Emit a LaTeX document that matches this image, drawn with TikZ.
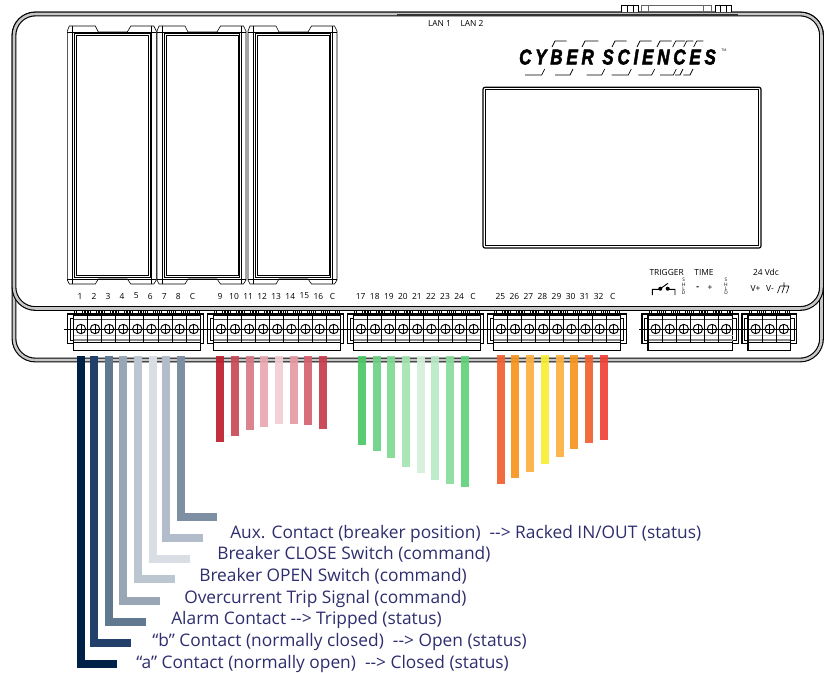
\documentclass[tikz,border=0pt]{standalone}
\usepackage{fontspec}
\usepackage{graphicx}
\setmainfont{Open Sans}
\newfontfamily\logofont[FakeBold=2.6,LetterSpace=22]{Liberation Sans}
\definecolor{lblnavy}{HTML}{2E2D6E}
\tikzset{
    shell/.style={line width=0.85pt, double=black!22, double distance=1.9pt, rounded corners=16pt},
    wire/.style={line width=6pt, opacity=0.92},
    lbl/.style={font=\fontsize{13}{15}\selectfont, text=lblnavy, anchor=base west, inner sep=0pt},
    pin/.style={font=\fontsize{6.3}{7}\selectfont, inner sep=0pt},
    shld/.style={font=\fontsize{3.6}{3.2}\selectfont, inner sep=0pt, align=center},
    hair/.style={line width=0.45pt}
}
\begin{document}
\begin{tikzpicture}[x=0.75pt, y=-0.75pt]
    \useasboundingbox (0,0) rectangle (832,672);

    % Rumah perangkat
    \draw[shell] (14,14) rectangle (821.5,360);
    \draw[shell, fill=white] (14,14) rectangle (821.5,308.5);
    \draw[line width=0.9pt, black!80] (397,15) -- (738,15);

    % Konektor atas
    \draw[hair, fill=white] (621.7,12) -- (621.7,5) -- (638,5) -- (638,12);
    \draw[hair] (627,5.5) -- (627,12) (633,5.5) -- (633,12);
    \draw[hair, black!60] (641.7,12) -- (641.7,5) -- (711.7,5) -- (711.7,12) (648,5) -- (648,12) (703,5) -- (703,12);
    \draw[hair, fill=white] (715,12) -- (715,5) -- (731,5) -- (731,12);
    \draw[hair] (720,5.5) -- (720,12) (726,5.5) -- (726,12);
    \node[pin] (lanA) at (439.5,23) {LAN 1};
    \node[pin] (lanB) at (472,23) {LAN 2};

    % Modul kiri
    \foreach \mx in {67.3,157,248} {
        \draw[hair, fill=white] (\mx,31) -- (\mx+2,26) -- (\mx+28,26) -- (\mx+31,32) -- (\mx+60,32) -- (\mx+63.5,26)
            -- (\mx+86.5,26) -- (\mx+89,31) -- (\mx+89,280) -- (\mx+86.5,284) -- (\mx+63.5,284) -- (\mx+60,279)
            -- (\mx+31,279) -- (\mx+28,284) -- (\mx+2,284) -- (\mx,280) -- cycle;
        \draw[hair] (\mx,32) -- (\mx+89,32) (\mx,279) -- (\mx+89,279);
        \draw[hair] (\mx+5.3,26) -- (\mx+5.3,284) (\mx+84,26) -- (\mx+84,284);
        \draw[hair] (\mx+6.8,33.5) rectangle (\mx+82.7,277);
        \draw[hair] (\mx+8.8,35.3) rectangle (\mx+81,275);
    }

    % Layar
    \draw[line width=0.9pt, rounded corners=1.5pt] (483,87.3) rectangle (761,248);
    \draw[hair] (485.5,89.5) rectangle (758.5,245.5);

    % Logo
    \node[inner sep=0pt] (logo) at (617.5,57) {\scalebox{0.8}[1]{\logofont\fontsize{16}{17}\selectfont\bfseries\itshape CYBER SCIENCES}};
    \node[inner sep=0pt, font=\fontsize{2.6}{3}\selectfont] (tm) at (724,50) {TM};
    \foreach \a/\b in {555/566.7,585/598.3,615/626.7,640/651.7,660/671.7,675.7/685,686.7/693.3,696.7/703.3}
        \draw[line width=0.55pt] (\a-3,47) -- (\a,41) -- (\b,41);
    \foreach \a/\b in {525/541.7,555/570,586.7/601.7,611.7/628.3,638.3/651.7,660/673.3,675/680,683.3/690}
        \draw[line width=0.55pt] (\a,75) -- (\b,75) -- (\b+3,69);

    % Nomor terminal
    \foreach \t [count=\i from 0] in {1,2,3,4,5,6,7,8,C} \node[pin] (pa\i) at (80+14.05*\i,296) {\t};
    \foreach \t [count=\i from 0] in {9,10,11,12,13,14,15,16,C} \node[pin] (pb\i) at (220+14.05*\i,296) {\t};
    \foreach \t [count=\i from 0] in {17,18,19,20,21,22,23,24,C} \node[pin] (pc\i) at (360.7+14.05*\i,296) {\t};
    \foreach \t [count=\i from 0] in {25,26,27,28,29,30,31,32,C} \node[pin] (pd\i) at (500.3+14.05*\i,296) {\t};

    % Blok terminal
    \foreach \bx/\n/\fr in {73.3/9/3,213.3/9/3,353.3/9/3,493.3/9/6,648/6/6,748/3/6} {
        \pgfmathsetmacro{\bw}{14.1*\n}
        \draw[thick, fill=white] (\bx-6,314) rectangle (\bx+\bw+\fr,343.5);
        \draw[hair] (\bx-3.5,318) rectangle (\bx+\bw+\fr-2.5,340);
        \fill[black!35] (\bx,336) rectangle (\bx+\bw,342);
        \draw[thick, fill=white] (\bx,315.7) rectangle (\bx+\bw,350.7);
        \fill[black!25] (\bx,334.5) rectangle (\bx+\bw,336);
        \fill[black!45] (\bx,338.5) rectangle (\bx+\bw,341);
        \draw[hair] (\bx,342) -- (\bx+\bw,342);
        \draw[hair, black!70] (\bx,319.5) -- (\bx+\bw,319.5);
        \draw[line width=0.6pt] (\bx-9,329) -- (\bx+\bw+7,329);
        \foreach \k in {1,...,\n} {
            \pgfmathsetmacro{\sx}{\bx+14.1*(\k-1)}
            \draw[line width=0.6pt] (\sx,316) -- (\sx,342);
            \draw[hair] (\sx+1,316) -- (\sx+1,310.5) -- (\sx+3,310.5) -- (\sx+3,316);
            \draw[hair] (\sx+9,316) -- (\sx+9,310.5) -- (\sx+11,310.5) -- (\sx+11,316);
            \draw[hair] (\sx+11.5,316) -- (\sx+11.5,310.5) -- (\sx+13.5,310.5) -- (\sx+13.5,316);
            \draw[line width=0.7pt, fill=white] (\sx+7.6,329) circle (4.7);
            \draw[line width=0.55pt] (\sx+3.6,329) -- (\sx+11.6,329) (\sx+7.6,325) -- (\sx+7.6,333);
        }
    }

    % Trigger, waktu, daya
    \node[pin] (trig) at (666.7,272.3) {TRIGGER};
    \node[pin] (time) at (704,272.3) {TIME};
    \node[pin] (vdc) at (766,272.3) {24 Vdc};
    \node[pin] (vplus) at (755.5,288) {V+};
    \node[pin] (vminus) at (770,288) {V-};
    \node[pin] (tminus) at (697.7,288) {\textbf{-}};
    \node[pin] (tplus) at (710,288) {+};
    \node[shld] (shA) at (683.7,286.5) {S\\H\\L\\D};
    \node[shld] (shB) at (726,286.5) {S\\H\\L\\D};
    \draw[line width=0.7pt] (652.3,295) -- (652.3,289.3) -- (660,289.3) (660.3,288.7) -- (668,283.3) (667.7,289.3) -- (675,289.3) -- (675,295);
    \fill (660.3,288.7) circle (2) (667.7,288.7) circle (2);
    \draw[hair] (784,282.3) -- (784,286) (780,286) -- (789,286) (780,286) -- (777.5,293) (784.5,286) -- (782,293) (789,286) -- (786.5,293);

    % Kabel merah
    \foreach \x/\yb/\c in {220/442/BE1E2D,235/436/C94A57,249.7/430.3/D87A85,264.3/426.7/E8A8B0,279.3/424/F3CDD2,293.7/424/E69AA5,308.3/425.3/D4626F,323/428.7/C63C4C} {
        \definecolor{wirecol}{HTML}{\c}
        \draw[wire, wirecol] (\x,356) -- (\x,\yb);
    }
    % Kabel hijau
    \foreach \x/\yb/\c in {362/445/4BC866,376.7/451/6DD184,391.3/458/7FDA93,406/466.7/A3E4B0,421/473.3/D2F1D9,435.3/480/B8E9C4,450/484/88DC9B,465/486.7/5FD27A} {
        \definecolor{wirecol}{HTML}{\c}
        \draw[wire, wirecol] (\x,356) -- (\x,\yb);
    }
    % Kabel jingga
    \foreach \x/\yb/\c in {500.7/483.7/F26030,515.3/478/F7941D,530/471.7/FDB040,545/464/F9ED32,559.7/456.7/FDB040,574/448.7/F7941D,589/442.7/F26030,603.7/439.7/EF4136} {
        \definecolor{wirecol}{HTML}{\c}
        \draw[wire, wirecol] (\x,355) -- (\x,\yb);
    }
    % Kabel biru dengan siku
    \foreach \x/\yb/\xe/\c in {81/664/117/002147,94/643/131/22406A,108.5/621.5/145.7/607890,123/600.7/160/98A6B6,138/579/175/BCC6D1,153/558.5/189.7/D9DEE4,166/537.7/202.7/B2BCCA,180.7/517/217/7F8FA3} {
        \definecolor{wirecol}{HTML}{\c}
        \draw[wire, wirecol, opacity=1] (\x,356) |- (\xe,\yb);
    }

    % Keterangan kabel
    \node[lbl] (auxc) at (230,538) {Aux. Contact (breaker position)\ \ -{}-> Racked IN/OUT (status)};
    \node[lbl] (closec) at (217,559.5) {Breaker CLOSE Switch (command)};
    \node[lbl] (openc) at (199,581) {Breaker OPEN Switch (command)};
    \node[lbl] (tripc) at (184,603) {Overcurrent Trip Signal (command)};
    \node[lbl] (alarmc) at (171,624.7) {Alarm Contact -{}-> Tripped (status)};
    \node[lbl] (bcont) at (152,646.5) {“b” Contact (normally closed)\ \ -{}-> Open (status)};
    \node[lbl] (acont) at (136,668) {“a” Contact (normally open)\ \ -{}-> Closed (status)};
\end{tikzpicture}
\end{document}
